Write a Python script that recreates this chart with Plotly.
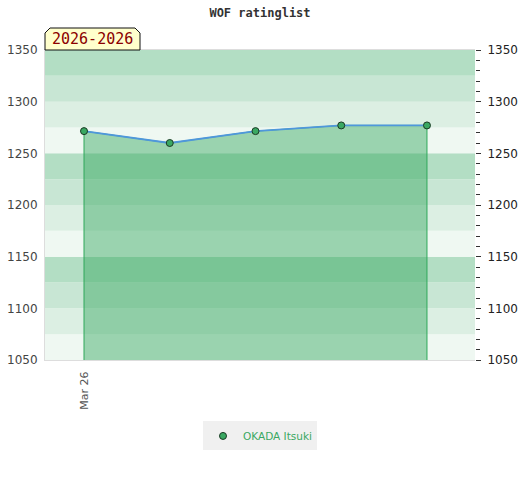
import plotly.graph_objects as go

# data
idx = [0, 1, 2, 3, 4]
ratings = [1271.5, 1260, 1271.5, 1277, 1277]
tick_vals = [0]
tick_text = ["Mar 26"]
player = "OKADA Itsuki"
period = "2026-2026"
y_min, y_max = 1050, 1350
band_colors = ["#eff8f2", "#dcefe3", "#c8e6d4", "#b3dec4"]

PW, PH = 430.0, 310.0  # plot area size in px

fig = go.Figure()

# background bands
shapes = []
lo = y_min
i = 0
while lo < y_max:
    shapes.append(dict(type="rect", xref="paper", yref="y", x0=0, x1=1, y0=lo, y1=lo + 25,
                       fillcolor=band_colors[i % 4], line_width=0, layer="below"))
    lo += 25
    i += 1

# period label box with chamfered top corners
bx0, bx1 = 0.0, 95 / PW
by0, by1 = 1.0, 1 + 22 / PH
cx, cy = 5 / PW, 5 / PH
shapes.append(dict(type="path", xref="paper", yref="paper",
                   path=f"M {bx0} {by0} L {bx0} {by1-cy} L {bx0+cx} {by1} L {bx1-cx} {by1} "
                        f"L {bx1} {by1-cy} L {bx1} {by0} Z",
                   fillcolor="#ffffcc", line=dict(color="#111", width=1), layer="above"))

# fill polygon
fig.add_trace(go.Scatter(
    x=[idx[0]] + idx + [idx[-1]],
    y=[y_min] + ratings + [y_min],
    fill="toself", fillcolor="rgba(52,166,94,0.45)",
    mode="lines", line=dict(color="#2fa85a", width=1),
    hoverinfo="skip", showlegend=False))

fig.add_trace(go.Scatter(
    x=idx, y=ratings, mode="lines+markers", name=player, showlegend=False,
    line=dict(color="#4f97dc", width=1.8),
    marker=dict(size=7, color="#3aa862", line=dict(color="#1a3a24", width=1))))

# legend entry (marker only)
fig.add_trace(go.Scatter(x=[None], y=[None], mode="markers", name=player,
                         marker=dict(size=7, color="#3aa862", line=dict(color="#1a3a24", width=1))))

# dummy for right axis
fig.add_trace(go.Scatter(x=[idx[0]], y=[ratings[0]], yaxis="y2", mode="markers",
                         marker=dict(opacity=0), showlegend=False, hoverinfo="skip"))

fig.update_layout(
    width=520, height=480,
    margin=dict(l=45, r=45, t=50, b=120, autoexpand=False),
    paper_bgcolor="white", plot_bgcolor="white",
    shapes=shapes,
    title=dict(text="<b>WOF ratinglist</b>", x=0.5, xanchor="center", y=0.982, yanchor="top",
               font=dict(family="DejaVu Sans Mono", size=12, color="#333")),
    xaxis=dict(range=[-0.455, 4.56], tickvals=tick_vals, ticktext=tick_text, tickangle=-90,
               automargin=False, ticklabelstandoff=6,
               showgrid=False, zeroline=False, showline=True, linecolor="#dddddd", linewidth=1,
               mirror=True, tickfont=dict(family="DejaVu Sans", size=11, color="#555")),
    yaxis=dict(range=[y_min, y_max], dtick=50, showgrid=False, zeroline=False, automargin=False,
               showline=True, linecolor="#dddddd", linewidth=1, ticklabelstandoff=4,
               tickfont=dict(family="DejaVu Sans", size=12, color="#444")),
    yaxis2=dict(range=[y_min, y_max], dtick=50, overlaying="y", side="right", automargin=False,
                showgrid=False, zeroline=False, ticks="outside", ticklen=5, tickcolor="#333",
                ticklabelstandoff=4,
                minor=dict(dtick=10, ticks="outside", ticklen=4, tickcolor="#333"),
                tickfont=dict(family="DejaVu Sans", size=12, color="#222")),
    legend=dict(orientation="h", x=0.5, xanchor="center", y=-0.245, yanchor="middle",
                bgcolor="#f0f0f0", font=dict(family="DejaVu Sans", size=10.5, color="#3aa862"),
                itemwidth=30),
    annotations=[dict(text=period, xref="paper", yref="paper", x=47.5 / PW, y=1 + 11 / PH,
                      xanchor="center", yanchor="middle", showarrow=False,
                      font=dict(family="DejaVu Sans Mono", size=15, color="#8b0000"))],
)

fig.write_html("out.html", config={"displayModeBar": False},
               post_script="document.body.style.margin='0';")
